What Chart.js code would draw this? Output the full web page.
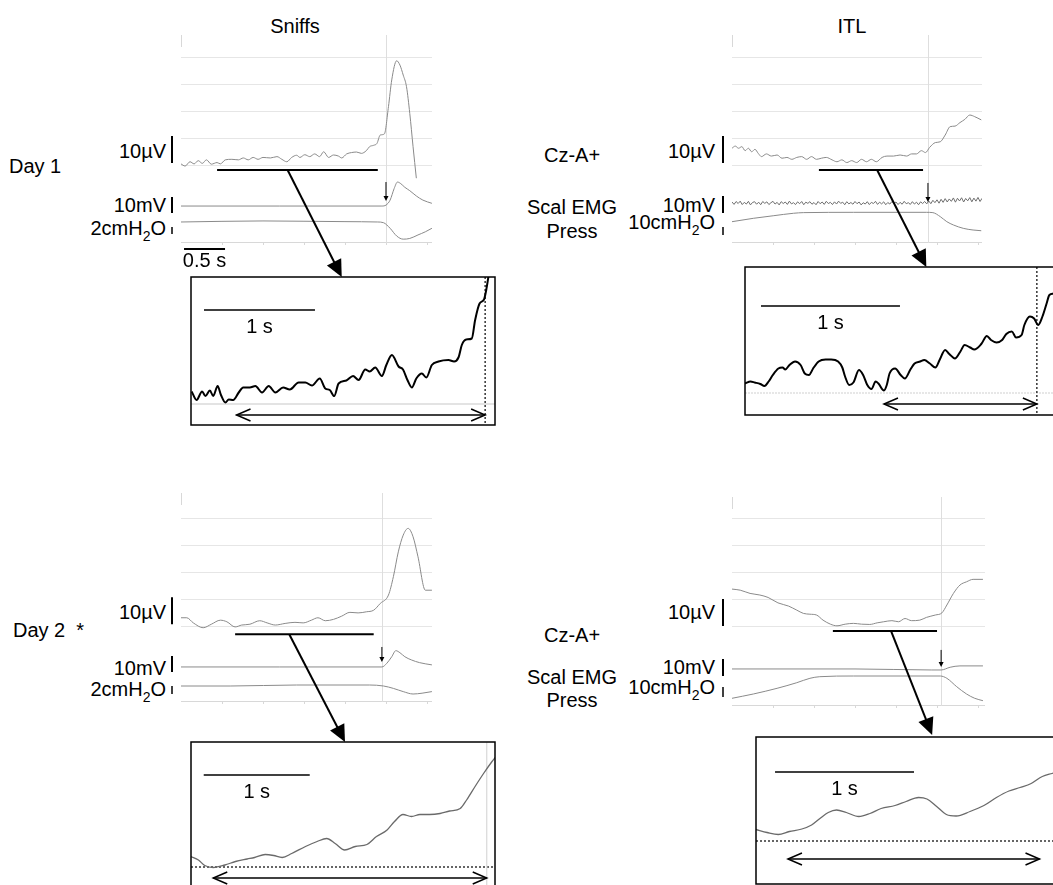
<!DOCTYPE html>
<html>
<head>
<meta charset="utf-8">
<script src="https://cdn.jsdelivr.net/npm/chart.js@4.4.1/dist/chart.umd.min.js"></script>
<style>
  html, body { margin: 0; padding: 0; background: #fff; }
  body { width: 1053px; height: 885px; overflow: hidden; position: relative;
         font-family: "Liberation Sans", Arial, sans-serif; font-size: 20px; color: #000; }
  canvas { position: absolute; }
  .lbl { position: absolute; line-height: 20px; white-space: pre; transform: translateY(-50%); }
  .r { transform: translate(-100%, -50%); }
  .c { transform: translate(-50%, -50%); }
  .sub { font-size: 14px; position: relative; top: 6px; }
</style>
</head>
<body>
<div class="lbl c" style="left:295px;top:26px">Sniffs</div>
<div class="lbl c" style="left:852px;top:26px">ITL</div>
<div class="lbl" style="left:9px;top:166px">Day 1</div>
<div class="lbl" style="left:13px;top:630px">Day 2  *</div>

<div class="lbl r" style="left:166px;top:151px">10µV</div>
<div class="lbl r" style="left:166px;top:205px">10mV</div>
<div class="lbl r" style="left:166px;top:229px">2cmH<span class="sub">2</span>O</div>
<div class="lbl r" style="left:166px;top:612px">10µV</div>
<div class="lbl r" style="left:166px;top:668px">10mV</div>
<div class="lbl r" style="left:166px;top:690px">2cmH<span class="sub">2</span>O</div>

<div class="lbl c" style="left:572px;top:155px">Cz-A+</div>
<div class="lbl c" style="left:572px;top:207px">Scal EMG</div>
<div class="lbl c" style="left:572px;top:231px">Press</div>
<div class="lbl r" style="left:715px;top:151px">10µV</div>
<div class="lbl r" style="left:715px;top:205px">10mV</div>
<div class="lbl r" style="left:715px;top:223px">10cmH<span class="sub">2</span>O</div>

<div class="lbl c" style="left:572px;top:635px">Cz-A+</div>
<div class="lbl c" style="left:572px;top:677px">Scal EMG</div>
<div class="lbl c" style="left:572px;top:700px">Press</div>
<div class="lbl r" style="left:715px;top:612px">10µV</div>
<div class="lbl r" style="left:715px;top:667px">10mV</div>
<div class="lbl r" style="left:715px;top:688px">10cmH<span class="sub">2</span>O</div>

<canvas id="sniff1" width="280" height="248" style="left:160px;top:30px"></canvas>
<canvas id="itl1" width="280" height="238" style="left:710px;top:30px"></canvas>
<canvas id="sniff2" width="280" height="255" style="left:160px;top:488px"></canvas>
<canvas id="itl2" width="283" height="244" style="left:710px;top:492px"></canvas>
<canvas id="zoomSniff1" width="308" height="152" style="left:189px;top:275px"></canvas>
<canvas id="zoomItl1" width="317" height="152" style="left:743px;top:265px"></canvas>
<canvas id="zoomSniff2" width="308" height="152" style="left:189px;top:740px"></canvas>
<canvas id="zoomItl2" width="306" height="151" style="left:754px;top:735px"></canvas>

<script>
// [time s, value]; EEG in µV, EMG in mV, mouth pressure in cmH2O
const sniff1Eeg = [[0,0.4],[0.05,-0.4],[0.11,1.2],[0.16,0.4],[0.21,1.6],[0.26,0.6],[0.31,1.9],[0.37,0.3],[0.44,0.9],[0.48,0.4],
  [0.54,1.9],[0.62,2.1],[0.70,1.9],[0.76,2.6],[0.82,1.9],[0.88,2.8],[0.94,2.1],[1.00,2.8],[1.09,2.6],[1.17,3.1],[1.23,2.1],
  [1.29,1.2],[1.35,2.8],[1.41,3.6],[1.45,2.8],[1.51,3.8],[1.57,3.1],[1.63,4.1],[1.69,3.1],[1.74,4.9],[1.80,2.8],[1.86,3.7],
  [1.92,3.3],[1.96,2.6],[2.02,4.1],[2.08,4.6],[2.14,4.8],[2.20,4.3],[2.26,5.3],[2.30,6.8],[2.35,7.3],[2.39,8.0],[2.43,11.1],
  [2.48,11.5],[2.53,21.6],[2.57,31.5],[2.63,38.6],[2.67,37.0],[2.71,33.3],[2.75,29.0],[2.79,19.1],[2.83,6.8],[2.87,-4.9]];
const sniff1Emg = [[0,0],[1.2,0],[2.45,0],[2.50,0.6],[2.55,3.7],[2.60,11],[2.64,15],[2.68,14],[2.73,11.7],[2.79,9.6],
  [2.87,6.3],[2.95,3.7],[3.06,1.7]];
const sniff1Press = [[0,0],[1.0,0.3],[2.0,0.1],[2.40,0],[2.47,-0.2],[2.55,-1.8],[2.63,-4.0],[2.71,-4.9],[2.79,-4.7],
  [2.89,-3.7],[2.98,-2.8],[3.06,-1.8]];

const itl1Eeg = [[0,6.2],[0.04,7],[0.08,6.2],[0.12,6.8],[0.16,5.3],[0.20,6.2],[0.24,4.9],[0.28,5.8],[0.32,4.3],[0.36,3.1],
  [0.42,4.1],[0.48,3.3],[0.55,3.7],[0.61,2.5],[0.67,2.8],[0.73,2.1],[0.79,2.8],[0.85,3.1],[0.91,2.1],[0.97,3.1],[1.03,2.1],
  [1.09,2.5],[1.15,2.8],[1.22,1.9],[1.28,1.2],[1.34,1.9],[1.40,0.9],[1.46,1.6],[1.52,0.9],[1.58,2.1],[1.64,1.2],[1.70,2.1],
  [1.76,1.2],[1.83,2.8],[1.89,3.3],[1.97,3.3],[2.05,3.7],[2.13,3.3],[2.19,4.1],[2.25,4.1],[2.31,5.3],[2.36,4.6],[2.41,6.5],
  [2.48,8.3],[2.54,8.6],[2.60,11.1],[2.66,14.2],[2.72,14.4],[2.78,15.7],[2.84,16.9],[2.90,18.5],[2.96,17.9],[3.04,16.7]];
// scalene EMG sampled every 25 ms
const itl1EmgStep = 0.025;
const itl1Emg = [0.6,-0.8,0.9,-0.3,1.1,-0.9,0.4,-0.6,1.0,-1.1,0.3,0.8,-0.7,0.5,-1.0,0.9,-0.2,0.7,-0.9,0.2,
  1.0,-0.6,0.4,-1.1,0.8,-0.3,0.6,-0.8,1.1,-0.5,0.2,-0.9,0.7,-0.4,0.9,-1.0,0.5,-0.2,0.8,-0.7,
  0.3,-1.0,0.9,-0.4,0.6,-0.8,1.0,-0.3,0.4,-0.9,0.7,-0.6,1.1,-0.2,0.5,-1.0,0.8,-0.5,0.3,-0.7,
  0.9,-0.4,0.6,-1.1,0.2,-0.6,0.8,-0.9,0.4,-0.3,1.0,-0.8,0.5,-0.5,0.7,-1.0,0.3,-0.6,0.9,-0.2,
  0.6,-0.9,0.4,-0.7,1.0,-0.4,0.2,-0.8,0.8,-0.6,0.5,-1.0,0.7,-0.3,0.9,-0.5,
  1.2,-0.4,1.6,0.2,1.9,-0.1,2.2,0.4,2.6,0.6,2.4,1.0,3.0,0.5,2.8,1.2,3.1,0.6,2.7,1.3,3.2,0.7,2.9,1.1,3.3,0.9,2.8];
const itl1Press = [[0,0.4],[0.26,4.6],[0.51,7.9],[0.75,10.9],[0.87,11.7],[1.48,12.1],[2.37,12.1],[2.45,11.7],[2.54,6.7],
  [2.62,0.4],[2.70,-3.7],[2.82,-7.9],[2.94,-10],[3.04,-10.9]];

const sniff2Eeg = [[0,3.1],[0.07,3.1],[0.15,1.2],[0.27,-0.6],[0.37,0.7],[0.48,2.2],[0.56,1.6],[0.66,-0.3],[0.74,0.4],
  [0.84,0.7],[0.96,2.0],[1.05,1.2],[1.15,0.4],[1.27,1.0],[1.39,1.4],[1.49,1.2],[1.59,2.2],[1.67,3.1],[1.76,2.0],[1.86,2.5],
  [1.96,3.7],[2.06,5.1],[2.16,4.9],[2.26,5.3],[2.35,5.9],[2.43,8.4],[2.53,11.5],[2.59,18.3],[2.65,27.5],[2.71,33.7],
  [2.77,36.2],[2.83,33.1],[2.89,25.7],[2.98,13.3],[3.06,13.3]];
const sniff2Emg = [[0,0],[1.2,0],[2.45,0],[2.51,2.3],[2.57,6.4],[2.62,10.2],[2.67,8.9],[2.73,6.4],[2.81,4.4],[2.91,2.7],[3.06,1.3]];
const sniff2Press = [[0,0],[0.6,0],[1.41,0.25],[2.30,0.25],[2.47,0],[2.59,-0.6],[2.71,-1.4],[2.83,-2.0],[2.94,-1.8],[3.06,-1.4]];

const itl2Eeg = [[0,13.7],[0.10,13.3],[0.22,12.1],[0.34,11.5],[0.44,10.6],[0.56,8.6],[0.69,7.4],[0.79,5.9],[0.87,4.7],
  [0.95,4.4],[1.03,4.1],[1.11,2.2],[1.20,0.7],[1.28,0.1],[1.38,0.7],[1.48,1.0],[1.58,0.7],[1.68,0.6],[1.77,1.2],[1.85,1.6],
  [1.95,2.0],[2.03,1.6],[2.11,2.8],[2.19,2.0],[2.29,2.2],[2.37,3.2],[2.48,4.1],[2.56,4.9],[2.62,7.8],[2.70,12.1],[2.78,15.2],
  [2.86,16.4],[2.94,17.3],[3.06,17.3]];
const itl2Emg = [[0,0],[1.5,0],[2.43,-0.6],[2.55,-0.6],[2.66,1.0],[2.78,1.8],[3.06,1.8]];
const itl2Press = [[0,-0.3],[0.26,4],[0.55,9.7],[0.79,15.3],[0.95,19.7],[1.07,21.3],[1.48,22],[2.54,22],[2.62,19.7],
  [2.74,11.3],[2.86,4],[2.96,-0.3],[3.06,-2.7]];

// expanded EEG segments (arbitrary µV, 0 = reference line)
const zoomSniff1 = [[0.006,2.5],[0.05,0.8],[0.10,2.5],[0.13,1.6],[0.17,2.7],[0.20,1.6],[0.24,3.6],[0.27,1.8],[0.31,0.3],
  [0.34,0.9],[0.38,0.8],[0.43,2.3],[0.47,3.3],[0.53,3.3],[0.58,3.6],[0.64,2.3],[0.70,3.6],[0.76,2.3],[0.83,3.3],[0.89,2.9],
  [0.97,4.3],[1.03,4.3],[1.09,3.7],[1.16,5.1],[1.21,3.1],[1.25,2.8],[1.29,1.6],[1.33,4.1],[1.40,4.7],[1.46,5.6],[1.51,4.8],
  [1.57,6.9],[1.61,6.5],[1.66,7.3],[1.72,5.6],[1.76,7.8],[1.81,9.8],[1.87,7.5],[1.91,6.9],[1.95,4.8],[1.99,3.3],[2.03,5.1],
  [2.08,6.1],[2.12,5.3],[2.17,7.8],[2.23,8.5],[2.32,8.8],[2.37,8.5],[2.41,9.3],[2.44,11.8],[2.48,12.9],[2.53,13.1],
  [2.56,16.8],[2.60,20.1],[2.64,20.9],[2.66,22.8],[2.68,25.5]];
const zoomItl1 = [[0,1.9],[0.04,2.3],[0.07,2.1],[0.11,1.8],[0.14,1.4],[0.17,2.3],[0.20,3.6],[0.24,4.9],[0.27,5.1],[0.29,4.7],
  [0.32,5.6],[0.36,6.3],[0.40,5.6],[0.43,3.9],[0.46,3.6],[0.49,4.9],[0.53,6.3],[0.58,6.7],[0.62,6.7],[0.67,6.3],[0.70,5.1],
  [0.72,3.3],[0.75,1.6],[0.78,2.1],[0.82,4.6],[0.85,3.6],[0.88,1.6],[0.91,0.8],[0.94,2.3],[0.96,1.9],[1.00,0.5],[1.02,1.6],
  [1.04,3.9],[1.08,4.9],[1.12,3.6],[1.15,2.9],[1.19,4.7],[1.22,5.9],[1.26,6.3],[1.29,6.6],[1.33,5.9],[1.37,5.1],[1.40,6.6],
  [1.44,8.6],[1.47,7.8],[1.51,6.9],[1.55,8.3],[1.58,9.6],[1.62,9.1],[1.65,8.7],[1.70,9.8],[1.74,11.4],[1.77,10.6],[1.81,10.1],
  [1.85,10.6],[1.88,11.8],[1.92,12.3],[1.95,11.1],[1.99,11.6],[2.01,13.6],[2.05,15.3],[2.08,14.9],[2.11,13.6],[2.14,15.3],
  [2.17,17.9],[2.19,19.6],[2.22,19.9],[2.25,20.2]];
const zoomSniff2 = [[0,2.1],[0.07,1.4],[0.13,0.3],[0.21,-0.1],[0.32,0.4],[0.42,1.1],[0.53,1.6],[0.60,1.9],[0.70,2.5],[0.78,2.3],
  [0.86,1.9],[0.95,2.7],[1.08,4.1],[1.19,5.1],[1.28,5.7],[1.36,4.7],[1.45,3.4],[1.55,4.1],[1.66,4.5],[1.75,6.1],[1.85,7.4],
  [1.92,9.1],[2.00,10.5],[2.08,10.1],[2.16,10.5],[2.25,10.5],[2.35,10.7],[2.44,11.2],[2.54,11.7],[2.60,13.4],[2.68,16.1],
  [2.76,18.7],[2.84,21.1],[2.87,21.9]];
const zoomItl2 = [[0,2.3],[0.08,1.7],[0.16,1.3],[0.24,1.9],[0.33,2.4],[0.40,3.2],[0.46,4.5],[0.52,5.7],[0.58,6.2],[0.65,5.7],
  [0.74,4.9],[0.82,5.5],[0.90,6.5],[1.00,7.1],[1.08,7.9],[1.17,8.7],[1.23,8.4],[1.30,6.9],[1.37,5.3],[1.44,5.0],[1.54,5.9],
  [1.64,7.1],[1.73,8.7],[1.82,10.0],[1.90,10.7],[1.98,11.5],[2.06,12.9],[2.13,13.5],[2.17,13.8]];

const eegGridTicks = [0, 10, 20, 30, 40];   // µV
const timeTicks = [0.5, 1, 1.5, 2, 2.5, 3]; // s

const pts = arr => arr.map(([x, y]) => ({ x, y }));
const sampled = (vals, dt) => vals.map((y, i) => ({ x: i * dt, y }));

const specs = {};

function headAt(ctx, x1, y1, x2, y2, len, half) {
  const a = Math.atan2(y2 - y1, x2 - x1), c = Math.cos(a), s = Math.sin(a);
  ctx.beginPath();
  ctx.moveTo(x2, y2);
  ctx.lineTo(x2 - len * c + half * s, y2 - len * s - half * c);
  ctx.lineTo(x2 - len * c - half * s, y2 - len * s + half * c);
  ctx.closePath();
  ctx.fill();
}

function hline(ctx, x1, x2, y) { ctx.beginPath(); ctx.moveTo(x1, y); ctx.lineTo(x2, y); ctx.stroke(); }
function vline(ctx, x, y1, y2) { ctx.beginPath(); ctx.moveTo(x, y1); ctx.lineTo(x, y2); ctx.stroke(); }

const marks = {
  id: 'marks',
  beforeDatasetsDraw(chart) {
    const sp = specs[chart.canvas.id];
    if (!sp) return;
    const { ctx, chartArea: a, scales } = chart;
    const x = scales.x;
    ctx.save();
    if (sp.kind === 'trace') {
      ctx.lineWidth = 1;
      ctx.strokeStyle = '#e6e6e6';
      eegGridTicks.forEach(v => hline(ctx, a.left, a.right, Math.round(scales.yEeg.getPixelForValue(v)) + 0.5));
      ctx.strokeStyle = '#d8d8d8';
      hline(ctx, a.left, a.right, Math.round(a.bottom) - 0.5);
      timeTicks.filter(t => t <= x.max).forEach(t => vline(ctx, Math.round(x.getPixelForValue(t)) + 0.5, a.bottom - 1, a.bottom + 2));
      vline(ctx, a.left + 0.5, a.top, a.top + 12);
      ctx.strokeStyle = '#dedede';
      vline(ctx, Math.round(x.getPixelForValue(sp.event)) + 0.5, a.top, a.bottom);
    } else {
      const y = scales.y;
      ctx.lineWidth = 1.2;
      ctx.strokeStyle = sp.baseline.color;
      ctx.setLineDash(sp.baseline.dash);
      hline(ctx, a.left, a.right, y.getPixelForValue(0));
      if (sp.event) {
        ctx.strokeStyle = sp.event.color;
        ctx.setLineDash(sp.event.dash);
        vline(ctx, x.getPixelForValue(sp.event.t), a.top, a.bottom);
      }
    }
    ctx.restore();
  },
  afterDatasetsDraw(chart) {
    const sp = specs[chart.canvas.id];
    if (!sp) return;
    const { ctx, chartArea: a, scales } = chart;
    const x = scales.x;
    ctx.save();
    ctx.strokeStyle = '#000';
    ctx.fillStyle = '#000';
    if (sp.kind === 'trace') {
      // time window shown expanded below
      const yb = scales.yEeg.getPixelForValue(sp.bar.at);
      ctx.lineWidth = 2;
      hline(ctx, x.getPixelForValue(sp.bar.from), x.getPixelForValue(sp.bar.to), yb);
      const x1 = x.getPixelForValue(sp.link.from), x2 = x.getPixelForValue(sp.link.to), y2 = chart.height - 1;
      const len = Math.hypot(x2 - x1, y2 - yb);
      ctx.beginPath();
      ctx.moveTo(x1, yb);
      ctx.lineTo(x2 - (x2 - x1) * 14 / len, y2 - (y2 - yb) * 14 / len);
      ctx.stroke();
      headAt(ctx, x1, yb, x2, y2, 17, 8);
      // onset marker on EMG
      const xe = x.getPixelForValue(sp.event);
      const m1 = scales.yEmg.getPixelForValue(sp.marker.from), m2 = scales.yEmg.getPixelForValue(sp.marker.to);
      ctx.lineWidth = 1;
      vline(ctx, xe, m1, m2 - 4);
      headAt(ctx, xe, m1, xe, m2, 5, 2.5);
      // calibration bars
      sp.cals.forEach(c => {
        const s = scales[c.axis];
        ctx.lineWidth = c.w;
        vline(ctx, a.left - 9, s.getPixelForValue(c.from), s.getPixelForValue(c.from + c.size));
      });
      if (sp.timeBar) {
        const t1 = x.getPixelForValue(sp.timeBar.from), t2 = x.getPixelForValue(sp.timeBar.from + sp.timeBar.size);
        ctx.lineWidth = 2;
        hline(ctx, t1, t2, a.bottom + 6);
        ctx.font = '20px "Liberation Sans", Arial, sans-serif';
        ctx.textAlign = 'center';
        ctx.textBaseline = 'middle';
        ctx.fillText(sp.timeBar.label, (t1 + t2) / 2, a.bottom + 18);
      }
    } else {
      const y = scales.y;
      ctx.lineWidth = 1.5;
      ctx.strokeRect(a.left, a.top, a.width, a.height);
      // duration double arrow
      const ys = y.getPixelForValue(sp.span.at);
      const s1 = x.getPixelForValue(sp.span.from), s2 = x.getPixelForValue(sp.span.to);
      hline(ctx, s1, s2, ys);
      ctx.beginPath();
      ctx.moveTo(s1 + 14, ys - 6); ctx.lineTo(s1, ys); ctx.lineTo(s1 + 14, ys + 6);
      ctx.moveTo(s2 - 14, ys - 6); ctx.lineTo(s2, ys); ctx.lineTo(s2 - 14, ys + 6);
      ctx.stroke();
      // 1 s scale bar
      const yk = y.getPixelForValue(sp.scale.at);
      const k1 = x.getPixelForValue(sp.scale.from), k2 = x.getPixelForValue(sp.scale.from + 1);
      hline(ctx, k1, k2, yk);
      ctx.font = '20px "Liberation Sans", Arial, sans-serif';
      ctx.textAlign = 'center';
      ctx.textBaseline = 'middle';
      ctx.fillText('1 s', (k1 + k2) / 2, yk + 17);
    }
    ctx.restore();
  }
};
Chart.register(marks);

function line(data, axis, color, width, smooth) {
  return {
    data, yAxisID: axis, borderColor: color, borderWidth: width, pointRadius: 0, fill: false,
    cubicInterpolationMode: smooth ? 'monotone' : 'default', tension: 0
  };
}

function base(pad) {
  return {
    responsive: false, animation: false, events: [], devicePixelRatio: 1,
    layout: { padding: pad },
    plugins: { legend: { display: false }, tooltip: { enabled: false } }
  };
}

function traceChart(id, eeg, emg, press, r, spec) {
  specs[id] = Object.assign({ kind: 'trace' }, spec);
  const o = base(r.pad);
  o.scales = {
    x: { type: 'linear', display: false, min: 0, max: r.tMax },
    yEeg: { type: 'linear', display: false, min: r.eeg[0], max: r.eeg[1] },
    yEmg: { type: 'linear', display: false, min: r.emg[0], max: r.emg[1] },
    yPress: { type: 'linear', display: false, min: r.press[0], max: r.press[1] }
  };
  return new Chart(document.getElementById(id), {
    type: 'line',
    data: { datasets: [
      line(eeg, 'yEeg', '#8a8a8a', 1, true),
      line(emg, 'yEmg', r.emgColor || '#8a8a8a', 1, !r.emgColor),
      line(press, 'yPress', '#8a8a8a', 1, true)
    ] },
    options: o
  });
}

function zoomChart(id, data, r, spec) {
  specs[id] = Object.assign({ kind: 'zoom' }, spec);
  const o = base(2);
  o.scales = {
    x: { type: 'linear', display: false, min: 0, max: r.tMax },
    y: { type: 'linear', display: false, min: r.y[0], max: r.y[1] }
  };
  return new Chart(document.getElementById(id), {
    type: 'line',
    data: { datasets: [line(data, 'y', r.color, r.width, true)] },
    options: o
  });
}

traceChart('sniff1', pts(sniff1Eeg), pts(sniff1Emg), pts(sniff1Press),
  { pad: { left: 21, top: 5, right: 8, bottom: 35 }, tMax: 3.061, eeg: [-28.9, 48.15], emg: [-23.1, 106.9], press: [-6, 53.4] },
  { event: 2.5, bar: { from: 0.44, to: 2.40, at: -1.85 }, link: { from: 1.30, to: 1.96 }, marker: { from: 15, to: 3.1 },
    cals: [{ axis: 'yEeg', from: 0.7, size: 10, w: 2 }, { axis: 'yEmg', from: -4.4, size: 10, w: 2 }, { axis: 'yPress', from: -1.4, size: -2, w: 1.5 }],
    timeBar: { from: 0.037, size: 0.5, label: '0.5 s' } });

traceChart('itl1', pts(itl1Eeg), sampled(itl1Emg, itl1EmgStep), pts(itl1Press),
  { pad: { left: 22, top: 5, right: 8, bottom: 25 }, tMax: 3.049, eeg: [-28.9, 48.15], emg: [-23.5, 98.8], press: [-26.25, 233.75], emgColor: '#6e6e6e' },
  { event: 2.39, bar: { from: 1.06, to: 2.33, at: -1.85 }, link: { from: 1.77, to: 2.37 }, marker: { from: 11.8, to: 0.6 },
    cals: [{ axis: 'yEeg', from: 0.7, size: 10, w: 2 }, { axis: 'yEmg', from: -5.9, size: 10, w: 2 }, { axis: 'yPress', from: -6.25, size: -10, w: 1.5 }] });

traceChart('sniff2', pts(sniff2Eeg), pts(sniff2Emg), pts(sniff2Press),
  { pad: { left: 21, top: 5, right: 8, bottom: 41 }, tMax: 3.061, eeg: [-28.1, 49.3], emg: [-21.9, 108.75], press: [-4, 48.25] },
  { event: 2.45, bar: { from: 0.66, to: 2.35, at: -3.0 }, link: { from: 1.32, to: 2.0 }, marker: { from: 12.5, to: 3.1 },
    cals: [{ axis: 'yEeg', from: 0.7, size: 10, w: 2 }, { axis: 'yEmg', from: -3.1, size: 10, w: 2 }, { axis: 'yPress', from: 0, size: -2, w: 1.5 }] });

traceChart('itl2', pts(itl2Eeg), pts(itl2Emg), pts(itl2Press),
  { pad: { left: 22, top: 5, right: 8, bottom: 30 }, tMax: 3.085, eeg: [-29.6, 47.8], emg: [-21.8, 101.2], press: [-8, 201] },
  { event: 2.55, bar: { from: 1.23, to: 2.50, at: -1.85 }, link: { from: 1.94, to: 2.44 }, marker: { from: 11.2, to: 1.2 },
    cals: [{ axis: 'yEeg', from: 0, size: 10, w: 2 }, { axis: 'yEmg', from: -4.1, size: 10, w: 2 }, { axis: 'yPress', from: 1, size: 10, w: 1.5 }] });

zoomChart('zoomSniff1', pts(zoomSniff1), { tMax: 2.739, y: [-4.2, 25.4], color: '#000', width: 2 },
  { baseline: { color: '#c8c8c8', dash: [] }, event: { t: 2.65, color: '#000', dash: [2, 2] },
    span: { from: 0.41, to: 2.65, at: -2.2 }, scale: { from: 0.117, at: 18.8 } });

zoomChart('zoomItl1', pts(zoomItl1), { tMax: 2.252, y: [-4.4, 25.2], color: '#000', width: 2 },
  { baseline: { color: '#d0d0d0', dash: [2, 1] }, event: { t: 2.10, color: '#000', dash: [2, 2] },
    span: { from: 1.0, to: 2.10, at: -2.2 }, scale: { from: 0.115, at: 17.4 } });

zoomChart('zoomSniff2', pts(zoomSniff2), { tMax: 2.868, y: [-4.6, 25], color: '#6a6a6a', width: 1.3 },
  { baseline: { color: '#000', dash: [2, 2] }, event: { t: 2.79, color: '#d8d8d8', dash: [] },
    span: { from: 0.21, to: 2.79, at: -2.2 }, scale: { from: 0.12, at: 18.4 } });

zoomChart('zoomItl2', pts(zoomItl2), { tMax: 2.173, y: [-8.6, 20.8], color: '#6a6a6a', width: 1.3 },
  { baseline: { color: '#000', dash: [2, 2] }, event: null,
    span: { from: 0.23, to: 2.04, at: -3.6 }, scale: { from: 0.137, at: 13.8 } });
</script>
</body>
</html>
